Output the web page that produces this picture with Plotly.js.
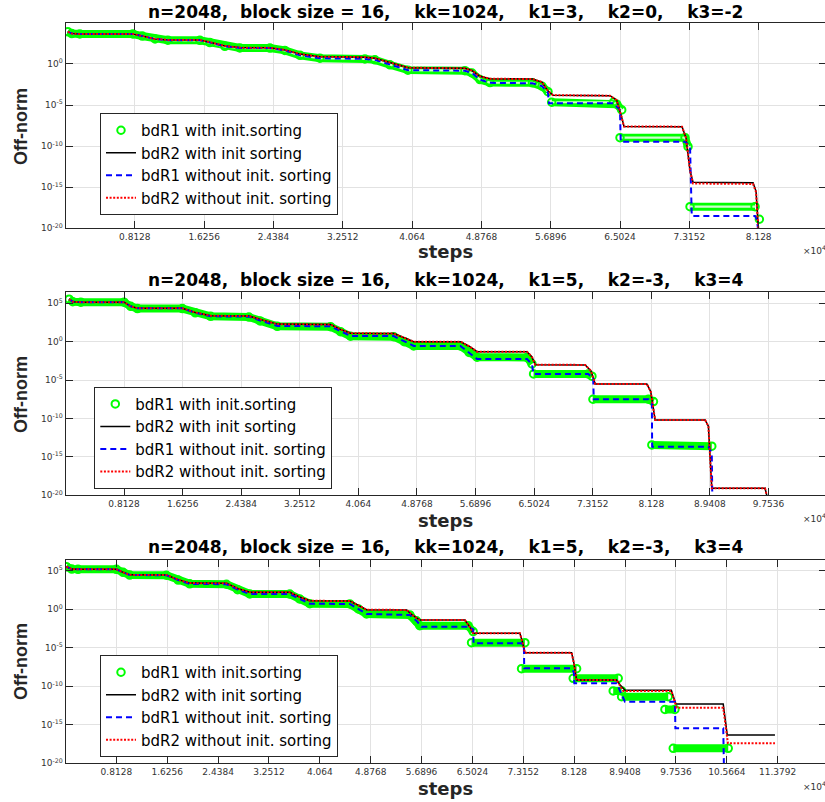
<!DOCTYPE html>
<html><head><meta charset="utf-8">
<script src="https://cdn.plot.ly/plotly-3.0.1.min.js"></script>
<style>html,body{margin:0;padding:0;overflow:hidden;background:#fff}</style>
</head><body><div id="chart" style="width:830px;height:802px"></div>
<script>
// ---------------- tick labels ----------------
const xTickSteps = [8128,16256,24384,32512,40640,48768,56896,65024,73152,81280,89408,97536,105664,113792];
const xTickLabels = ["0.8128","1.6256","2.4384","3.2512","4.064","4.8768","5.6896","6.5024","7.3152","8.128","8.9408","9.7536","10.5664","11.3792"];
const yTickValues = [1e-20,1e-15,1e-10,1e-5,1,1e5];
const yTickLabels = ["10<sup>-20</sup>","10<sup>-15</sup>","10<sup>-10</sup>","10<sup>-5</sup>","10<sup>0</sup>","10<sup>5</sup>"];
const seriesNames = ["bdR1 with init.sorting","bdR2 with init sorting","bdR1 without init. sorting","bdR2 without init. sorting"];
const panelTitles = [
  "n=2048,\u00A0\u00A0block size = 16,\u00A0\u00A0\u00A0\u00A0kk=1024,\u00A0\u00A0\u00A0\u00A0k1=3,\u00A0\u00A0\u00A0\u00A0k2=0,\u00A0\u00A0\u00A0\u00A0k3=-2",
  "n=2048,\u00A0\u00A0block size = 16,\u00A0\u00A0\u00A0\u00A0kk=1024,\u00A0\u00A0\u00A0\u00A0k1=5,\u00A0\u00A0\u00A0\u00A0k2=-3,\u00A0\u00A0\u00A0\u00A0k3=4",
  "n=2048,\u00A0\u00A0block size = 16,\u00A0\u00A0\u00A0\u00A0kk=1024,\u00A0\u00A0\u00A0\u00A0k1=5,\u00A0\u00A0\u00A0\u00A0k2=-3,\u00A0\u00A0\u00A0\u00A0k3=4"
];

// ---------------- panel 1 (steps, log10 of Off-norm) ----------------
const p1_steps_bdR1_with = [270,739,1677,7894,9000,10500,12000,15753,16926,18686,20445,23965,25724,27500,29830,35108,36281,38041,40152,46839,47660,48598,49771,54749,55870,56573,null,57007,64233,64632,65218,null,65019,72644,72995,null,73230,80855,null,81359];
const p1_log_bdR1_with   = [3.93,3.7,3.65,3.65,3.4,3.05,2.9,2.88,2.6,2.15,1.95,1.93,1.65,1.05,0.7,0.62,0.5,-0.1,-0.75,-0.82,-1.1,-1.9,-2.27,-2.3,-2.7,-3.37,null,-4.66,-4.66,-4.9,-5.6,null,-8.97,-8.97,-10.06,null,-17.37,-17.37,null,-18.9];
const p1_steps_bdR2_with = [270,739,1677,7894,9000,10500,12000,15753,16926,18686,20445,23965,25724,27500,29830,35108,36281,38041,40152,46839,47660,48598,49771,54749,55870,56573,57160,63846,64632,65218,65488,72292,72761,73230,73582,80620,80972,81265];
const p1_log_bdR2_with   = [3.93,3.7,3.65,3.65,3.4,3.05,2.93,2.92,2.65,2.2,1.99,1.97,1.7,1.2,0.88,0.82,0.7,0.15,-0.45,-0.53,-0.8,-1.5,-1.8,-1.83,-2.2,-3.3,-3.8,-3.86,-4.4,-6.5,-7.6,-7.63,-9,-13,-14.4,-14.45,-15.5,-20.5];
const p1_steps_bdR1_without = [270,739,1677,7894,9000,10500,12000,15753,16926,18686,20445,23965,25724,27500,29830,35108,36281,38041,40152,46839,47660,48598,49771,54749,55870,56573,56690,64233,64784,65019,65100,72644,73230,73430,80855,81090,81242];
const p1_log_bdR1_without   = [3.93,3.7,3.65,3.65,3.4,3.05,2.9,2.88,2.6,2.15,1.95,1.93,1.65,1.05,0.7,0.62,0.5,-0.1,-0.75,-0.82,-1.1,-1.9,-2.3,-2.35,-2.7,-3.5,-4.79,-4.79,-5.3,-5.6,-9.46,-9.46,-10,-18.5,-18.5,-19,-20.5];
const p1_steps_bdR2_without = [270,739,1677,7894,9000,10500,12000,15753,16926,18686,20445,23965,25724,27500,29830,35108,36281,38041,40152,46839,47660,48598,49771,54749,55870,56573,57160,63846,64632,65218,65488,72292,72761,73230,73582,80620,80972,81265];
const p1_log_bdR2_without   = [3.93,3.7,3.65,3.65,3.4,3.05,2.93,2.92,2.65,2.2,1.99,1.97,1.7,1.2,0.88,0.82,0.7,0.15,-0.45,-0.53,-0.8,-1.5,-1.8,-1.83,-2.2,-3.3,-3.8,-3.86,-4.4,-6.5,-7.6,-7.63,-9,-13,-14.55,-14.6,-15.6,-20.5];

// ---------------- panel 2 ----------------
const p2_steps_bdR1_with = [499,1012,2121,8122,9051,9979,16216,18000,20139,25447,27000,29383,36771,38158,39544,45544,47000,48318,54789,56000,57103,64033,64726,null,64948,72530,73042,null,73181,80887,81580,null,81358,89674];
const p2_log_bdR1_with   = [5.52,5.2,5.13,5.13,4.6,4.3,4.3,3.75,3.3,3.2,2.7,2.0,1.95,1.3,0.7,0.65,0.0,-0.56,-0.56,-1.4,-2.03,-2.05,-2.9,null,-4.2,-4.2,-4.5,null,-7.5,-7.5,-7.8,null,-13.45,-13.6];
const p2_steps_bdR2_with = [499,1012,2121,8122,9051,9979,16216,18000,20139,25447,27000,29383,36771,38158,39544,45544,47000,48318,54789,56000,57103,64033,64726,65184,72114,72900,73499,80665,81200,81816,88746,89204,89674,97062,97436];
const p2_log_bdR2_with   = [5.52,5.2,5.13,5.13,4.6,4.35,4.35,3.8,3.37,3.33,2.9,2.28,2.22,1.6,1.1,1.05,0.5,0.0,0.0,-0.6,-1.3,-1.3,-2.0,-3.0,-3.03,-3.8,-5.5,-5.51,-6.5,-10.2,-10.2,-11,-19.09,-19.09,-20.5];
const p2_steps_bdR1_without = [499,1012,2121,8122,9051,9979,16216,18000,20139,25447,27000,29383,36771,38158,39544,45544,47000,48318,54789,56000,57103,64033,64726,64948,72530,73222,73300,80887,81358,81400,89204,89674,89750];
const p2_log_bdR1_without   = [5.52,5.2,5.13,5.13,4.6,4.33,4.33,3.75,3.3,3.25,2.75,2.05,2.0,1.4,0.75,0.72,0.1,-0.56,-0.56,-1.4,-2.25,-2.25,-3.0,-4.2,-4.2,-4.8,-7.5,-7.5,-8.0,-13.67,-13.67,-14.5,-20.5];
const p2_steps_bdR2_without = [499,1012,2121,8122,9051,9979,16216,18000,20139,25447,27000,29383,36771,38158,39544,45544,47000,48318,54789,56000,57103,64033,64726,65184,72114,72900,73499,80665,81200,81816,88746,89204,89674,97062,97436];
const p2_log_bdR2_without   = [5.52,5.2,5.13,5.13,4.6,4.35,4.35,3.8,3.37,3.33,2.9,2.28,2.22,1.6,1.1,1.05,0.5,0.0,0.0,-0.6,-1.3,-1.3,-2.0,-3.0,-3.03,-3.8,-5.5,-5.51,-6.5,-10.2,-10.2,-11,-19.09,-19.09,-20.5];

// ---------------- panel 3 ----------------
const p3_steps_bdR1_with = [144,991,2000,8136,9200,10262,16128,18000,19852,25718,27500,29443,35837,37400,39034,45427,46800,48097,55017,56088,56610,64335,65135,null,64879,73400,null,72872,81664,null,81120,88313,null,87513,88857,null,88857,96305,null,95778,97377,null,97105,105893];
const p3_log_bdR1_with   = [5.53,5.22,5.19,5.19,4.8,4.45,4.42,3.8,3.3,3.25,2.55,2.0,1.98,1.35,0.72,0.69,0.05,-0.6,-0.74,-1.5,-2.13,-2.13,-2.9,null,-4.34,-4.34,null,-7.71,-7.71,null,-8.96,-8.96,null,-10.6,-10.6,null,-11.35,-11.35,null,-13.0,-13.0,null,-18.05,-18.05];
const p3_steps_bdR2_with = [144,991,2000,8136,9200,10262,16128,18000,19852,25718,27500,29443,35837,37400,39034,45427,46800,48097,54490,55500,56610,63808,64607,65135,72600,73000,73400,80864,81232,81664,88057,88600,89385,96800,97105,97537,105094,105400,105733,113359];
const p3_log_bdR2_with   = [5.53,5.22,5.19,5.19,4.8,4.47,4.45,3.85,3.4,3.38,2.7,2.22,2.2,1.6,1.1,1.08,0.5,-0.05,-0.09,-0.8,-1.39,-1.39,-2.3,-3.12,-3.12,-4.2,-5.63,-5.63,-7,-9.18,-9.18,-9.8,-10.5,-10.5,-11.3,-12.3,-12.3,-14,-16.32,-16.32];
const p3_steps_bdR1_without = [144,991,2000,8136,9200,10262,16128,18000,19852,25718,27500,29443,35837,37400,39034,45427,46800,48097,55017,56088,56886,64335,65135,65200,72872,73240,73300,80864,81232,81300,88057,88600,89385,97377,97450,105094,105206];
const p3_log_bdR1_without   = [5.53,5.22,5.19,5.19,4.8,4.45,4.42,3.8,3.3,3.25,2.55,2.0,1.98,1.35,0.72,0.69,0.05,-0.6,-0.74,-1.5,-2.26,-2.26,-2.6,-4.42,-4.42,-4.8,-7.66,-7.66,-8.2,-9.61,-9.61,-10.5,-12.0,-12.0,-15.45,-15.45,-20.5];
const p3_steps_bdR2_without = [144,991,2000,8136,9200,10262,16128,18000,19852,25718,27500,29443,35837,37400,39034,45427,46800,48097,54490,55500,56610,63808,64607,65135,72600,73000,73400,80864,81232,81664,88057,88600,89112,96800,97105,97649,105094,105400,105845,113359];
const p3_log_bdR2_without   = [5.53,5.22,5.19,5.19,4.8,4.47,4.45,3.85,3.4,3.38,2.7,2.22,2.2,1.6,1.1,1.08,0.5,-0.05,-0.09,-0.8,-1.39,-1.39,-2.3,-3.12,-3.12,-4.2,-5.63,-5.63,-7,-9.18,-9.18,-9.9,-10.6,-10.6,-11.5,-12.78,-12.78,-15,-17.4,-17.4];

// ---------------- build ----------------
const pow10 = a => a.map(v => v === null ? null : Math.pow(10, v));
const W = 830, H = 802;
const panels = [
  {g:[p1_steps_bdR1_with,p1_log_bdR1_with], k:[p1_steps_bdR2_with,p1_log_bdR2_with], b:[p1_steps_bdR1_without,p1_log_bdR1_without], r:[p1_steps_bdR2_without,p1_log_bdR2_without],
   xmax:89173, ytop:4.95, nx:10, ny:5, top:23.3, bot:228.3, inner:2.2, legX:100, legY:113, titleY:12, stepsY:252, offY:127, x4Y:250},
  {g:[p2_steps_bdR1_with,p2_log_bdR1_with], k:[p2_steps_bdR2_with,p2_log_bdR2_with], b:[p2_steps_bdR1_without,p2_log_bdR1_without], r:[p2_steps_bdR2_without,p2_log_bdR2_without],
   xmax:105522, ytop:6.5, nx:12, ny:6, top:291.7, bot:495.3, inner:0, legX:94.3, legY:386.7, titleY:280, stepsY:520, offY:395, x4Y:518},
  {g:[p3_steps_bdR1_with,p3_log_bdR1_with], k:[p3_steps_bdR2_with,p3_log_bdR2_with], b:[p3_steps_bdR1_without,p3_log_bdR1_without], r:[p3_steps_bdR2_without,p3_log_bdR2_without],
   xmax:121514, ytop:6.4, nx:14, ny:6, top:560, bot:763.3, inner:0, legX:100, legY:655, titleY:546.5, stepsY:788, offY:662, x4Y:786}
];
const traces = [];
const layout = {width:W, height:H, margin:{l:0,r:0,t:0,b:0}, paper_bgcolor:'#fff', plot_bgcolor:'#fff',
  font:{family:'DejaVu Sans', color:'#000'}, showlegend:true, annotations:[]};
const axCol = '#262626';
panels.forEach((p, i) => {
  const n = i === 0 ? '' : String(i+1);
  const xa = 'x'+n, ya = 'y'+n, lg = 'legend'+n;
  const common = {xaxis:xa, yaxis:ya, legend:lg, hoverinfo:'skip', connectgaps:false};
  traces.push(Object.assign({x:p.g[0], y:pow10(p.g[1]), mode:'lines', line:{color:'#00ff00', width:8}, showlegend:false}, common));
  if (p.inner > 0) {
    traces.push(Object.assign({x:p.g[0], y:pow10(p.g[1]), mode:'lines', line:{color:'#ffffff', width:p.inner}, opacity:0.8, showlegend:false}, common));
  }
  traces.push(Object.assign({x:p.g[0], y:pow10(p.g[1]), mode:'markers', name:seriesNames[0],
    marker:{symbol:'circle-open', size:7.5, color:'#00ff00', line:{width:2, color:'#00ff00'}}}, common));
  traces.push(Object.assign({x:p.k[0], y:pow10(p.k[1]), mode:'lines', name:seriesNames[1], line:{color:'#000000', width:1.5}}, common));
  traces.push(Object.assign({x:p.b[0], y:pow10(p.b[1]), mode:'lines', name:seriesNames[2], line:{color:'#0000ff', width:2, dash:'6px,4px'}}, common));
  traces.push(Object.assign({x:p.r[0], y:pow10(p.r[1]), mode:'lines', name:seriesNames[3], line:{color:'#ff0000', width:2, dash:'2px,1.6px'}}, common));

  layout['xaxis'+n] = {domain:[65.5/W, 826/W], range:[0, p.xmax], anchor:ya, type:'linear',
    tickmode:'array', tickvals:xTickSteps.slice(0, p.nx), ticktext:xTickLabels.slice(0, p.nx),
    ticks:'inside', ticklen:7, tickcolor:axCol, tickwidth:1, showline:true, linecolor:axCol, linewidth:1, mirror:'allticks',
    showgrid:true, gridcolor:'#e2e2e2', gridwidth:1, zeroline:false, fixedrange:true,
    tickfont:{family:'DejaVu Sans', size:9, color:'#333'}};
  layout['yaxis'+n] = {domain:[1 - p.bot/H, 1 - p.top/H], range:[-20, p.ytop], anchor:xa, type:'log',
    tickmode:'array', tickvals:yTickValues.slice(0, p.ny), ticktext:yTickLabels.slice(0, p.ny),
    ticks:'inside', ticklen:7, tickcolor:axCol, tickwidth:1, showline:true, linecolor:axCol, linewidth:1, mirror:'allticks',
    showgrid:true, gridcolor:'#e2e2e2', gridwidth:1, zeroline:false, fixedrange:true,
    tickfont:{family:'DejaVu Sans', size:9, color:'#333'}};
  layout[lg] = {x:p.legX/W, y:1 - p.legY/H, xanchor:'left', yanchor:'top', xref:'paper', yref:'paper',
    bgcolor:'#ffffff', bordercolor:axCol, borderwidth:1, tracegroupgap:0,
    font:{family:'DejaVu Sans', size:15, color:'#000'}};
  layout.annotations.push(
    {text:'<b>'+panelTitles[i]+'</b>', xref:'paper', yref:'paper', x:445.7/W, y:1 - p.titleY/H, xanchor:'center', yanchor:'middle', showarrow:false,
     font:{family:'DejaVu Sans', size:17, color:'#000'}},
    {text:'<b>steps</b>', xref:'paper', yref:'paper', x:445.7/W, y:1 - p.stepsY/H, xanchor:'center', yanchor:'middle', showarrow:false,
     font:{family:'DejaVu Sans', size:18, color:'#262626'}},
    {text:'<b>Off-norm</b>', xref:'paper', yref:'paper', x:21/W, y:1 - p.offY/H, xanchor:'center', yanchor:'middle', showarrow:false, textangle:-90,
     font:{family:'Liberation Sans', size:18, color:'#262626'}},
    {text:'\u00D710<sup>4</sup>', xref:'paper', yref:'paper', x:801/W, y:1 - p.x4Y/H, xanchor:'left', yanchor:'middle', showarrow:false,
     font:{family:'DejaVu Sans', size:9, color:'#333'}}
  );
});
Plotly.newPlot('chart', traces, layout, {staticPlot:true, displayModeBar:false});
</script></body></html>
